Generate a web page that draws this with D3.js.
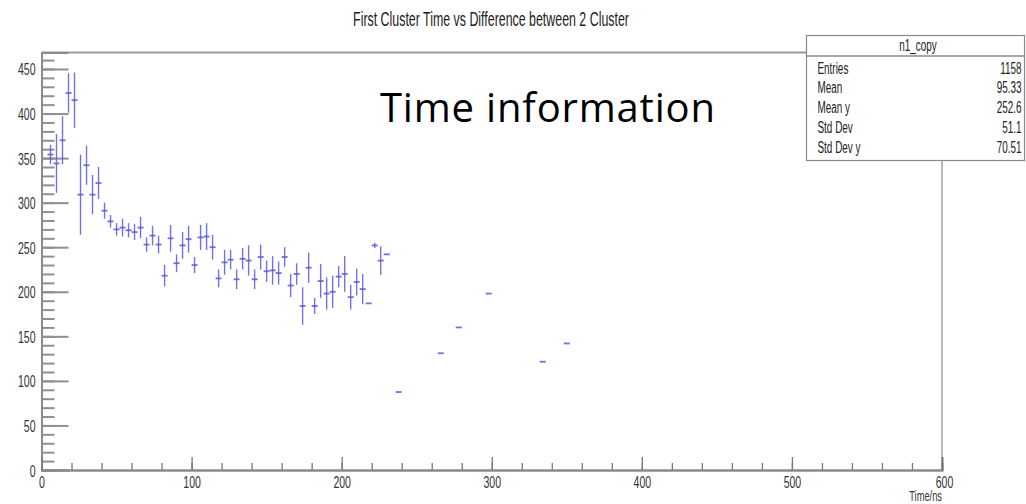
<!DOCTYPE html>
<html>
<head>
<meta charset="utf-8">
<script src="https://cdn.jsdelivr.net/npm/d3@7"></script>
<style>
    body { margin: 0; background: #fff; }
    svg { display: block; }
</style>
</head>
<body>
<div id="visual"></div>
<script>
/*  profile plot: first cluster time vs difference between 2 clusters */

// bin centres (ns), mean values and errors
var binCenters = [6, 10, 14, 18, 22, 26, 30, 34, 38, 42, 46, 50, 54, 58, 62, 66, 70, 74, 78, 82,
    86, 90, 94, 98, 102, 106, 110, 114, 118, 122, 126, 130, 134, 138, 142, 146, 150, 154, 158, 162,
    166, 170, 174, 178, 182, 186, 190, 194, 198, 202, 206, 210, 214, 218, 222, 226, 230,
    238, 266, 278, 298, 334, 350];
var meanValues = [354, 344, 370, 423, 415, 309, 342, 309, 322, 291, 279, 270, 272, 269, 267, 272, 253, 263, 253, 218,
    260, 232, 252, 259, 230, 261, 262, 250, 215, 233, 236, 214, 237, 235, 214, 239, 223, 224, 221, 239,
    207, 220, 184, 227, 184, 212, 198, 200, 217, 220, 194, 211, 203, 187, 252, 235, 242,
    87.5, 131, 160, 198, 121.5, 142];
var errValues = [11, 33, 27, 22, 31, 45, 22, 22, 18, 9, 7, 7, 10, 8, 9, 12, 8, 11, 10, 12,
    15, 10, 15, 15, 9, 14, 15, 14, 10, 14, 11, 11, 12, 17, 11, 14, 12, 16, 13, 11,
    13, 12, 21, 17, 9, 19, 18, 18, 12, 20, 14, 15, 17, 0, 3, 16, 0,
    0, 0, 0, 0, 0, 0];
var binWidth = 4;

var xTickMajor = [0, 100, 200, 300, 400, 500, 600];
var yTickMajor = [0, 50, 100, 150, 200, 250, 300, 350, 400, 450];

var statLabels = ["Entries", "Mean", "Mean y", "Std Dev", "Std Dev y"];
var statValues = ["1158", "95.33", "252.6", "51.1", "70.51"];

var titleText = "First Cluster Time vs Difference between 2 Cluster";
var histName = "n1_copy";
var xTitle = "Time/ns";
var noteText = "Time information";

function chart() {

    var w = 1026, h = 504;
    var squish = 0.62;   // the ROOT text in the picture is squeezed sideways
    var rootFont = "'Liberation Sans', Arial, Helvetica, sans-serif";

    var svg = d3.select("#visual").append("svg").attr("width", w).attr("height", h);

    var xScale = d3.scaleLinear().domain([0, 600]).range([41.5, 942]);
    var yScale = d3.scaleLinear().domain([0, 468.5]).range([470, 52.5]);

    // frame
    svg.append("line").attr("x1", 41.5).attr("x2", 806.5).attr("y1", 52.5).attr("y2", 52.5)
        .attr("stroke", "#9a9a9a").attr("stroke-width", 2);
    svg.append("line").attr("x1", 942).attr("x2", 942).attr("y1", 160).attr("y2", 470)
        .attr("stroke", "#8a8a8a").attr("stroke-width", 1.2);

    // minor ticks
    var yMinor = svg.append("g").attr("transform", "translate(41.5,0)")
        .call(d3.axisLeft(yScale).tickValues(d3.range(0, 461, 10)).tickSize(-13).tickFormat(""));
    var xMinor = svg.append("g").attr("transform", "translate(0,470)")
        .call(d3.axisBottom(xScale).tickValues(d3.range(0, 601, 20)).tickSize(-7).tickFormat(""));

    var yAxis = svg.append("g").attr("transform", "translate(41.5,0)")
        .call(d3.axisLeft(yScale).tickValues(yTickMajor).tickSize(-27).tickPadding(0));
    var xAxis = svg.append("g").attr("transform", "translate(0,470)")
        .call(d3.axisBottom(xScale).tickValues(xTickMajor).tickSize(-13).tickPadding(0));

    [yMinor, xMinor, yAxis, xAxis].forEach(function (g) {
        g.selectAll(".domain").attr("stroke", "#8a8a8a").attr("stroke-width", 2);
        g.selectAll(".tick line").attr("stroke", "#8f8f8f").attr("stroke-width", 2);
    });
    xMinor.selectAll(".tick line").attr("stroke-width", 1.3).attr("stroke", "#777");
    xAxis.selectAll(".tick line").attr("stroke-width", 1.3).attr("stroke", "#777");

    yAxis.selectAll(".tick text")
        .attr("x", null).attr("dy", null)
        .attr("transform", "translate(-6,6) scale(" + squish + ",1)")
        .attr("font-family", rootFont).attr("font-size", "17px").attr("fill", "#333");
    xAxis.selectAll(".tick text")
        .attr("y", null).attr("dy", null)
        .attr("transform", "translate(0,18) scale(" + squish + ",1)")
        .attr("font-family", rootFont).attr("font-size", "17px").attr("fill", "#333");
    // the last label sits a bit right of its tick
    xAxis.selectAll(".tick text").filter(function (d) { return d === 600; })
        .attr("transform", "translate(2,18) scale(" + squish + ",1)");

    // error bars
    var pts = svg.append("g");
    var color = "#5b5bd4";

    pts.selectAll("line.v")
        .data(binCenters)
        .enter()
        .append("line")
        .attr("x1", function (d) { return xScale(d); })
        .attr("x2", function (d) { return xScale(d); })
        .attr("y1", function (d, i) { return yScale(meanValues[i] + errValues[i]); })
        .attr("y2", function (d, i) { return yScale(meanValues[i] - errValues[i]); })
        .attr("stroke", color).attr("stroke-width", 1.4).attr("opacity", 0.85);

    pts.selectAll("line.hz")
        .data(binCenters)
        .enter()
        .append("line")
        .attr("x1", function (d) { return xScale(d - binWidth / 2); })
        .attr("x2", function (d) { return xScale(d + binWidth / 2); })
        .attr("y1", function (d, i) { return yScale(meanValues[i]); })
        .attr("y2", function (d, i) { return yScale(meanValues[i]); })
        .attr("stroke", color).attr("stroke-width", 1.8).attr("opacity", 0.85);

    // title
    svg.append("text")
        .attr("transform", "translate(491,26) scale(" + squish + ",1)")
        .attr("text-anchor", "middle")
        .text(titleText)
        .attr("font-family", rootFont).attr("font-size", "20px").attr("fill", "#222");

    // axis title
    svg.append("text")
        .attr("transform", "translate(942,501) scale(" + squish + ",1)")
        .attr("text-anchor", "end")
        .text(xTitle)
        .attr("font-family", rootFont).attr("font-size", "15px").attr("fill", "#333");

    // stats box
    var box = svg.append("g");
    box.append("rect").attr("x", 806.5).attr("y", 35.5).attr("width", 218).attr("height", 125)
        .attr("fill", "#fff").attr("stroke", "#8a8a8a").attr("stroke-width", 1.2);
    box.append("line").attr("x1", 806.5).attr("x2", 1024.5).attr("y1", 56).attr("y2", 56)
        .attr("stroke", "#8a8a8a").attr("stroke-width", 1.5);
    box.append("text")
        .attr("transform", "translate(918,51) scale(" + squish + ",1)")
        .attr("text-anchor", "middle")
        .text(histName)
        .attr("font-family", rootFont).attr("font-size", "16px").attr("fill", "#222");

    var rowY = d3.scaleLinear().domain([0, 4]).range([73.5, 152.5]);

    box.selectAll("text.lab")
        .data(statLabels)
        .enter()
        .append("text")
        .attr("transform", function (d, i) { return "translate(817.5," + rowY(i) + ") scale(" + squish + ",1)"; })
        .text(function (d) { return d; })
        .attr("font-family", rootFont).attr("font-size", "16px").attr("fill", "#222");

    box.selectAll("text.val")
        .data(statValues)
        .enter()
        .append("text")
        .attr("transform", function (d, i) { return "translate(1021.5," + rowY(i) + ") scale(" + squish + ",1)"; })
        .attr("text-anchor", "end")
        .text(function (d) { return d; })
        .attr("font-family", rootFont).attr("font-size", "16px").attr("fill", "#222");

    // note typed over the plot
    svg.append("text")
        .attr("x", 380).attr("y", 121.5)
        .attr("textLength", 335)
        .text(noteText)
        .attr("font-family", "'Open Sans', 'Noto Sans', sans-serif")
        .attr("font-size", "40px").attr("fill", "#000");
}

window.onload = chart;
</script>
</body>
</html>
